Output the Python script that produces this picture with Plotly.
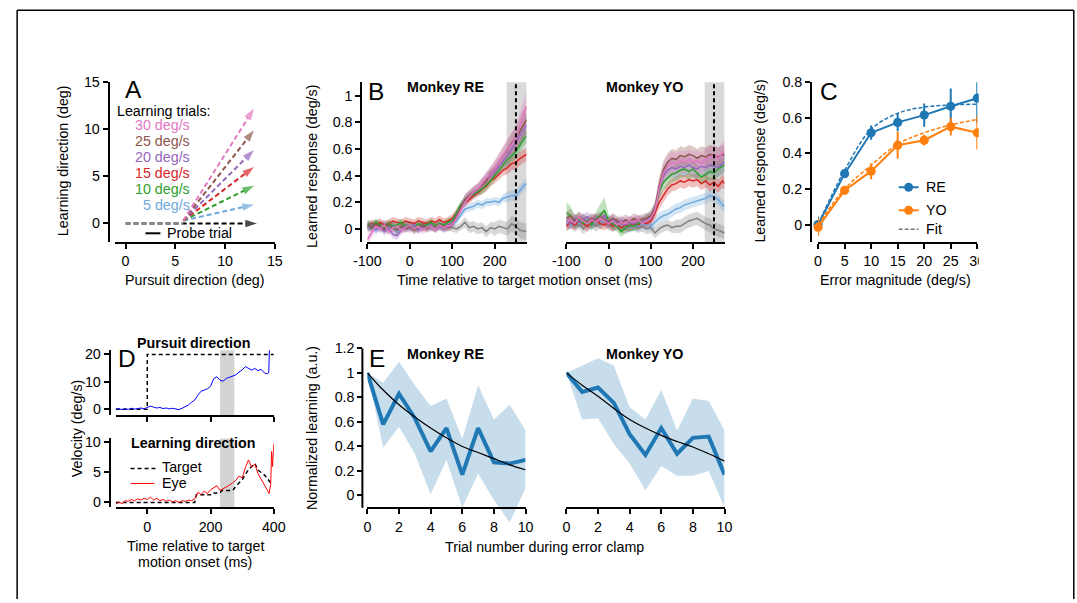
import plotly.graph_objects as go

# The captured picture shows the page at a small zoom-out (~0.981) and the page body
# keeps an 8 px margin; positions below are given in final picture pixels and
# converted to figure paper coordinates.
S = 0.981
OFF = 8
W, H = 1086, 599
FONT = "Liberation Sans, Arial, Helvetica, sans-serif"


def px(x):
    return (x / S - OFF) / W


def py(y):
    return 1 - (y / S - OFF) / H


def fs(v):
    return round(v / S, 2)


# ---------------- DATA ----------------
# Panel A (schematic)
A_SPEEDS = ["5 deg/s", "10 deg/s", "15 deg/s", "20 deg/s", "25 deg/s", "30 deg/s"]
A_COLORS = ["#6fa8dc", "#2ca02c", "#d62728", "#9467bd", "#8c564b", "#e377c2"]
A_START_X = 5.8
A_START_Y = 0.3
A_END_X = 12.9
A_END_Y = [2.0, 4.0, 6.0, 7.8, 9.9, 12.2]
A_PROBE_END = 13.2

# Panel B (learned response time courses)
B_T = list(range(-100, 271, 10)) + [275]
B_NAMES = ["0", "5", "10", "15", "20", "25", "30"]
B_COLORS = ["#7f7f7f", "#6fa8dc", "#d62728", "#2ca02c", "#9467bd", "#8c564b", "#e377c2"]

RE_MEAN = {
    "0": [0.02, 0.00, 0.03, 0.01, 0.02, -0.01, 0.02, 0.00, 0.01, 0.03,
          0.02, 0.00, 0.02, 0.01, 0.03, 0.02, 0.01, 0.02, 0.00, 0.02,
          0.01, 0.00, 0.02, 0.05, 0.01, 0.02, 0.00, 0.01, -0.02, 0.01,
          0.00, 0.02, 0.01, 0.00, 0.04, 0.02, -0.01, -0.02, -0.02],
    "5": [0.00, 0.03, -0.01, 0.02, 0.04, 0.01, 0.03, -0.02, 0.02, 0.01,
          0.03, 0.02, 0.00, 0.02, 0.03, 0.01, 0.02, 0.03, 0.01, 0.02,
          0.03, 0.06, 0.11, 0.15, 0.16, 0.17, 0.19, 0.18, 0.20, 0.20,
          0.21, 0.20, 0.23, 0.24, 0.25, 0.25, 0.29, 0.33, 0.34],
    "10": [0.02, 0.04, 0.03, 0.05, 0.03, 0.04, 0.06, 0.05, 0.04, 0.06,
           0.05, 0.04, 0.06, 0.05, 0.04, 0.06, 0.05, 0.07, 0.05, 0.06,
           0.08, 0.12, 0.17, 0.20, 0.22, 0.25, 0.27, 0.30, 0.32, 0.36,
           0.38, 0.41, 0.44, 0.46, 0.49, 0.50, 0.53, 0.55, 0.56],
    "15": [0.04, 0.02, 0.05, 0.03, 0.01, 0.04, 0.02, 0.03, 0.05, 0.02,
           0.03, 0.01, 0.04, 0.02, 0.03, 0.05, 0.02, 0.04, 0.03, 0.05,
           0.06, 0.12, 0.18, 0.21, 0.24, 0.26, 0.28, 0.30, 0.33, 0.36,
           0.40, 0.44, 0.48, 0.52, 0.55, 0.58, 0.63, 0.68, 0.69],
    "20": [0.01, 0.03, 0.00, 0.02, -0.02, 0.01, -0.04, -0.05, -0.01, 0.02,
           0.00, 0.03, -0.01, 0.02, 0.01, 0.03, 0.00, 0.02, 0.01, 0.03,
           0.04, 0.10, 0.16, 0.22, 0.25, 0.27, 0.30, 0.33, 0.37, 0.40,
           0.43, 0.47, 0.51, 0.55, 0.60, 0.65, 0.70, 0.76, 0.78],
    "25": [0.03, 0.01, 0.04, 0.02, 0.00, 0.03, 0.01, -0.01, 0.02, 0.00,
           0.02, -0.01, 0.01, 0.03, 0.00, 0.02, 0.01, 0.03, 0.02, 0.01,
           0.03, 0.09, 0.15, 0.22, 0.25, 0.28, 0.30, 0.33, 0.36, 0.42,
           0.45, 0.50, 0.55, 0.60, 0.64, 0.68, 0.74, 0.80, 0.82],
    "30": [-0.08, -0.03, 0.02, 0.00, 0.03, -0.02, 0.01, 0.02, -0.01, 0.01,
           0.03, 0.00, 0.02, -0.01, 0.01, 0.02, 0.00, 0.03, 0.01, 0.02,
           0.03, 0.08, 0.14, 0.20, 0.24, 0.28, 0.30, 0.34, 0.38, 0.41,
           0.45, 0.50, 0.55, 0.60, 0.63, 0.68, 0.78, 0.88, 0.92],
}
RE_SEM = {
    "0": [0.03, 0.03, 0.03, 0.03, 0.03, 0.03, 0.03, 0.03, 0.03, 0.03,
          0.03, 0.03, 0.03, 0.03, 0.03, 0.03, 0.03, 0.03, 0.03, 0.03,
          0.03, 0.03, 0.03, 0.04, 0.04, 0.04, 0.04, 0.04, 0.04, 0.04,
          0.05, 0.05, 0.05, 0.05, 0.06, 0.06, 0.06, 0.06, 0.06],
    "5": [0.03, 0.03, 0.03, 0.03, 0.03, 0.03, 0.03, 0.03, 0.03, 0.03,
          0.03, 0.03, 0.03, 0.03, 0.03, 0.03, 0.03, 0.03, 0.03, 0.03,
          0.03, 0.03, 0.03, 0.03, 0.03, 0.03, 0.03, 0.03, 0.03, 0.03,
          0.03, 0.03, 0.03, 0.04, 0.04, 0.04, 0.04, 0.04, 0.04],
    "10": [0.03, 0.03, 0.03, 0.03, 0.03, 0.03, 0.03, 0.03, 0.03, 0.03,
           0.03, 0.03, 0.03, 0.03, 0.03, 0.03, 0.03, 0.03, 0.03, 0.03,
           0.03, 0.03, 0.03, 0.03, 0.03, 0.03, 0.03, 0.04, 0.04, 0.04,
           0.04, 0.04, 0.04, 0.05, 0.05, 0.05, 0.05, 0.05, 0.05],
    "15": [0.03, 0.03, 0.03, 0.03, 0.03, 0.03, 0.03, 0.03, 0.03, 0.03,
           0.03, 0.03, 0.03, 0.03, 0.03, 0.03, 0.03, 0.03, 0.03, 0.03,
           0.03, 0.03, 0.03, 0.03, 0.03, 0.03, 0.03, 0.04, 0.04, 0.04,
           0.04, 0.04, 0.04, 0.05, 0.05, 0.05, 0.05, 0.05, 0.05],
    "20": [0.03, 0.03, 0.03, 0.03, 0.03, 0.03, 0.03, 0.03, 0.03, 0.03,
           0.03, 0.03, 0.03, 0.03, 0.03, 0.03, 0.03, 0.03, 0.03, 0.03,
           0.03, 0.03, 0.03, 0.04, 0.04, 0.04, 0.04, 0.04, 0.05, 0.05,
           0.05, 0.06, 0.06, 0.07, 0.07, 0.08, 0.08, 0.09, 0.09],
    "25": [0.03, 0.03, 0.03, 0.03, 0.03, 0.03, 0.03, 0.03, 0.03, 0.03,
           0.03, 0.03, 0.03, 0.03, 0.03, 0.03, 0.03, 0.03, 0.03, 0.03,
           0.03, 0.03, 0.03, 0.04, 0.04, 0.04, 0.04, 0.05, 0.05, 0.05,
           0.06, 0.06, 0.07, 0.07, 0.08, 0.09, 0.10, 0.11, 0.11],
    "30": [0.04, 0.04, 0.03, 0.03, 0.03, 0.03, 0.03, 0.03, 0.03, 0.03,
           0.03, 0.03, 0.03, 0.03, 0.03, 0.03, 0.03, 0.03, 0.03, 0.03,
           0.03, 0.03, 0.03, 0.04, 0.04, 0.04, 0.04, 0.05, 0.05, 0.05,
           0.06, 0.06, 0.07, 0.08, 0.09, 0.10, 0.11, 0.12, 0.12],
}

YO_MEAN = {
    "0": [0.03, 0.05, 0.02, 0.04, 0.00, 0.03, 0.05, 0.02, 0.04, 0.06,
          0.03, 0.02, 0.04, 0.01, 0.00, 0.02, 0.03, 0.01, 0.02, 0.00,
          0.01, -0.03, 0.00, 0.02, 0.03, 0.01, 0.02, 0.02, 0.04, 0.06,
          0.07, 0.08, 0.06, 0.04, 0.03, 0.00, -0.01, -0.02, -0.03],
    "5": [0.05, 0.03, 0.06, 0.04, 0.08, 0.05, 0.03, 0.06, 0.04, 0.07,
          0.05, 0.03, 0.04, 0.02, 0.03, 0.01, 0.03, 0.02, 0.04, 0.03,
          0.02, 0.05, 0.08, 0.10, 0.11, 0.13, 0.15, 0.16, 0.18, 0.19,
          0.20, 0.21, 0.22, 0.23, 0.25, 0.24, 0.22, 0.18, 0.17],
    "10": [0.02, 0.05, 0.03, 0.06, 0.04, 0.02, 0.05, 0.07, 0.04, 0.03,
           0.05, 0.02, 0.04, 0.01, 0.03, 0.02, 0.04, 0.03, 0.05, 0.04,
           0.06, 0.12, 0.20, 0.25, 0.30, 0.33, 0.34, 0.36, 0.35, 0.37,
           0.36, 0.37, 0.34, 0.36, 0.33, 0.35, 0.32, 0.36, 0.34],
    "15": [0.12, 0.10, 0.05, 0.07, 0.04, 0.06, 0.03, 0.08, 0.10, 0.14,
           0.06, 0.04, 0.02, -0.02, 0.01, 0.03, 0.02, 0.04, 0.05, 0.07,
           0.08, 0.15, 0.28, 0.35, 0.38, 0.41, 0.42, 0.44, 0.45, 0.43,
           0.45, 0.42, 0.39, 0.41, 0.43, 0.42, 0.45, 0.47, 0.48],
    "20": [0.06, 0.04, 0.08, 0.05, 0.07, 0.09, 0.06, 0.08, 0.07, 0.10,
           0.05, 0.07, 0.04, 0.06, 0.03, 0.05, 0.04, 0.06, 0.05, 0.07,
           0.09, 0.15, 0.30, 0.40, 0.44, 0.46, 0.45, 0.47, 0.46, 0.48,
           0.46, 0.45, 0.47, 0.46, 0.48, 0.47, 0.46, 0.49, 0.50],
    "25": [0.08, 0.10, 0.06, 0.09, 0.07, 0.05, 0.08, 0.06, 0.09, 0.07,
           0.05, 0.08, 0.06, 0.04, 0.07, 0.05, 0.08, 0.06, 0.07, 0.08,
           0.10, 0.15, 0.32, 0.44, 0.50, 0.53, 0.52, 0.55, 0.54, 0.56,
           0.55, 0.53, 0.55, 0.54, 0.56, 0.55, 0.54, 0.56, 0.55],
    "30": [0.05, 0.07, 0.04, 0.09, 0.06, 0.04, 0.07, 0.05, 0.08, 0.06,
           0.04, 0.06, 0.03, 0.05, 0.04, 0.06, 0.05, 0.07, 0.04, 0.06,
           0.08, 0.14, 0.30, 0.42, 0.47, 0.50, 0.49, 0.51, 0.50, 0.52,
           0.50, 0.51, 0.49, 0.52, 0.54, 0.55, 0.53, 0.57, 0.58],
}
YO_SEM = {
    "0": [0.04, 0.04, 0.04, 0.04, 0.04, 0.04, 0.04, 0.04, 0.04, 0.04,
          0.04, 0.04, 0.04, 0.04, 0.04, 0.04, 0.04, 0.04, 0.04, 0.04,
          0.04, 0.04, 0.04, 0.04, 0.04, 0.04, 0.05, 0.05, 0.05, 0.05,
          0.05, 0.05, 0.05, 0.05, 0.05, 0.05, 0.05, 0.05, 0.05],
    "5": [0.04, 0.04, 0.04, 0.04, 0.04, 0.04, 0.04, 0.04, 0.04, 0.04,
          0.04, 0.04, 0.04, 0.04, 0.04, 0.04, 0.04, 0.04, 0.04, 0.04,
          0.04, 0.04, 0.04, 0.04, 0.04, 0.04, 0.04, 0.04, 0.04, 0.04,
          0.04, 0.04, 0.04, 0.04, 0.04, 0.04, 0.04, 0.04, 0.04],
    "10": [0.04, 0.04, 0.04, 0.04, 0.04, 0.04, 0.04, 0.04, 0.04, 0.04,
           0.04, 0.04, 0.04, 0.04, 0.04, 0.04, 0.04, 0.04, 0.04, 0.04,
           0.04, 0.05, 0.05, 0.05, 0.05, 0.05, 0.05, 0.05, 0.05, 0.05,
           0.05, 0.05, 0.05, 0.05, 0.05, 0.05, 0.05, 0.05, 0.05],
    "15": [0.08, 0.07, 0.05, 0.05, 0.04, 0.04, 0.04, 0.05, 0.08, 0.10,
           0.05, 0.04, 0.04, 0.04, 0.04, 0.04, 0.04, 0.04, 0.04, 0.04,
           0.04, 0.05, 0.06, 0.06, 0.06, 0.06, 0.06, 0.06, 0.06, 0.06,
           0.06, 0.06, 0.06, 0.06, 0.06, 0.06, 0.06, 0.06, 0.06],
    "20": [0.04, 0.04, 0.04, 0.04, 0.04, 0.04, 0.04, 0.04, 0.04, 0.04,
           0.04, 0.04, 0.04, 0.04, 0.04, 0.04, 0.04, 0.04, 0.04, 0.04,
           0.04, 0.05, 0.07, 0.07, 0.07, 0.07, 0.07, 0.07, 0.07, 0.07,
           0.07, 0.07, 0.07, 0.07, 0.07, 0.07, 0.07, 0.07, 0.07],
    "25": [0.05, 0.05, 0.04, 0.04, 0.04, 0.04, 0.04, 0.04, 0.04, 0.04,
           0.04, 0.04, 0.04, 0.04, 0.04, 0.04, 0.04, 0.04, 0.04, 0.04,
           0.04, 0.05, 0.07, 0.07, 0.07, 0.07, 0.07, 0.07, 0.07, 0.07,
           0.07, 0.07, 0.07, 0.07, 0.07, 0.07, 0.07, 0.07, 0.07],
    "30": [0.04, 0.04, 0.04, 0.04, 0.04, 0.04, 0.04, 0.04, 0.04, 0.04,
           0.04, 0.04, 0.04, 0.04, 0.04, 0.04, 0.04, 0.04, 0.04, 0.04,
           0.04, 0.05, 0.07, 0.07, 0.08, 0.08, 0.08, 0.08, 0.08, 0.08,
           0.08, 0.08, 0.08, 0.08, 0.08, 0.08, 0.08, 0.08, 0.08],
}

# Panel C
C_ERR = [0, 5, 10, 15, 20, 25, 30]
C_RE = [0.0, 0.286, 0.516, 0.574, 0.615, 0.665, 0.71]
C_RE_SE = [0.045, 0.015, 0.04, 0.05, 0.065, 0.10, 0.14]
C_YO = [-0.015, 0.192, 0.30, 0.446, 0.474, 0.55, 0.516]
C_YO_SE = [0.05, 0.015, 0.045, 0.075, 0.03, 0.05, 0.095]
C_RE_FIT = [0.0, 0.305, 0.535, 0.625, 0.66, 0.672, 0.676]
C_YO_FIT = [0.0, 0.20, 0.333, 0.452, 0.516, 0.56, 0.59]

# Panel D
D_TOP_T = list(range(-100, 381, 10)) + [384, 386]
D_TOP_EYE = [0.0, 0.3, -0.1, 0.2, 0.0, 0.4, 0.1, 0.3, 0.5, 0.2,
             0.6, 1.2, 0.8, 0.5, 0.7, 0.3, 0.5, 0.2, 0.4, 0.1,
             -0.1, 0.4, 0.9, 1.6, 2.6, 3.4, 5.2, 6.6, 7.0, 7.5,
             8.4, 11.2, 11.9, 10.6, 10.3, 11.3, 11.7, 12.3, 12.6, 13.6,
             14.4, 15.6, 14.9, 14.3, 14.9, 14.1, 14.6, 13.3, 12.9, 13.6, 22.0]
D_TOP_TARGET_T = [-100, 0, 0, 400]
D_TOP_TARGET = [0, 0, 20, 20]
D_BOT_T = list(range(-100, 381, 10)) + [385, 390, 393, 396, 400]
D_BOT_EYE = [-0.3, 0.1, -0.2, 0.3, 0.2, 0.5, 0.3, 0.6, 0.4, 0.7,
             0.5, 0.9, 0.4, 0.7, 0.3, 0.5, 0.2, 0.4, 0.1, 0.3,
             0.0, 0.3, 0.2, 0.4, 0.3, 0.6, 1.7, 1.3, 1.9, 1.5,
             2.1, 2.4, 2.8, 2.0, 2.3, 2.5, 2.9, 3.3, 3.7, 4.4,
             4.1, 5.8, 7.1, 5.9, 6.4, 4.8, 3.9, 3.1, 2.0, 1.5,
             3.0, 8.5, 6.0, 9.8]
D_BOT_TARGET_T = [-100, 150, 155, 200, 205, 230, 235, 270, 280, 300, 320, 340, 350, 370, 390, 395]
D_BOT_TARGET = [0, 0, 1.3, 1.3, 1.6, 1.6, 2.0, 2.0, 2.7, 3.8, 5.5, 6.5, 5.4, 4.6, 3.3, 3.4]

# Panel E
E_TRIALS = list(range(11))
E_RE_MEAN = [1.0, 0.58, 0.83, 0.63, 0.36, 0.55, 0.17, 0.55, 0.27, 0.26, 0.29]
E_RE_UP = [1.0, 0.92, 1.09, 0.90, 0.73, 0.79, 0.46, 0.90, 0.62, 0.74, 0.53]
E_RE_LO = [1.0, 0.39, 0.56, 0.34, 0.01, 0.29, -0.10, 0.18, -0.04, -0.22, 0.06]
E_RE_FIT = [1.0, 0.86, 0.74, 0.64, 0.55, 0.47, 0.40, 0.35, 0.30, 0.25, 0.21]
E_YO_MEAN = [1.0, 0.845, 0.88, 0.755, 0.50, 0.33, 0.55, 0.34, 0.47, 0.48, 0.17]
E_YO_UP = [1.0, 1.06, 1.12, 1.06, 0.72, 0.62, 0.86, 0.53, 0.79, 0.77, 0.53]
E_YO_LO = [1.0, 0.62, 0.63, 0.42, 0.26, 0.04, 0.24, 0.16, 0.16, 0.20, -0.10]
E_YO_FIT = [1.0, 0.90, 0.81, 0.71, 0.62, 0.55, 0.49, 0.44, 0.395, 0.34, 0.28]

# ---------------- FIGURE ----------------
fig = go.Figure()


def rgba(hexc, a):
    h = hexc.lstrip("#")
    r, g, b = int(h[0:2], 16), int(h[2:4], 16), int(h[4:6], 16)
    return f"rgba({r},{g},{b},{a})"


def add(tr):
    tr.update(showlegend=False, hoverinfo="skip")
    fig.add_trace(tr)


def band(xs, lo, hi, color, xa, ya):
    add(go.Scatter(x=list(xs) + list(xs)[::-1], y=list(hi) + list(lo)[::-1],
                   fill="toself", fillcolor=color, line=dict(width=0),
                   mode="lines", xaxis=xa, yaxis=ya))


ARROW = fs(12)

# --- Panel A ---
add(go.Scatter(x=[0, A_PROBE_END], y=[0, 0], mode="lines+markers",
               line=dict(color="black", width=2, dash="5px,3px"),
               marker=dict(symbol="arrow", size=[0, ARROW], angleref="previous", color="black",
                           line=dict(width=0)),
               xaxis="x", yaxis="y", cliponaxis=False))
add(go.Scatter(x=[0, A_START_X], y=[0, 0], mode="lines",
               line=dict(color="#8a8a8a", width=2, dash="5px,3px"),
               xaxis="x", yaxis="y"))
for ye, col in zip(A_END_Y, A_COLORS):
    add(go.Scatter(x=[A_START_X, A_END_X], y=[A_START_Y, ye], mode="lines+markers",
                   line=dict(color=col, width=2, dash="5px,3px"),
                   marker=dict(symbol="arrow", size=[0, ARROW], angleref="previous", color=col,
                               line=dict(width=0)),
                   xaxis="x", yaxis="y", cliponaxis=False))

# --- Panel B ---
for mean_d, sem_d, xa, ya in [(RE_MEAN, RE_SEM, "x2", "y2"), (YO_MEAN, YO_SEM, "x3", "y3")]:
    for name, col in zip(B_NAMES, B_COLORS):
        m = mean_d[name]
        s = sem_d[name]
        band(B_T, [a - b for a, b in zip(m, s)], [a + b for a, b in zip(m, s)],
             rgba(col, 0.3), xa, ya)
    for name, col in zip(B_NAMES, B_COLORS):
        add(go.Scatter(x=B_T, y=mean_d[name], mode="lines",
                       line=dict(color=col, width=1.5), xaxis=xa, yaxis=ya))

# --- Panel C ---
for yv, se, fit, col in [(C_RE, C_RE_SE, C_RE_FIT, "#1f77b4"), (C_YO, C_YO_SE, C_YO_FIT, "#ff7f0e")]:
    add(go.Scatter(x=C_ERR, y=fit, mode="lines", line=dict(color=col, width=1.5, dash="4px,2px", shape="spline"),
                   xaxis="x4", yaxis="y4"))
    add(go.Scatter(x=C_ERR, y=yv, mode="lines+markers", line=dict(color=col, width=2),
                   marker=dict(size=fs(9), color=col),
                   error_y=dict(type="data", array=se, visible=True, color=col, thickness=2, width=0),
                   xaxis="x4", yaxis="y4", cliponaxis=False))

# --- Panel D ---
add(go.Scatter(x=D_TOP_TARGET_T, y=D_TOP_TARGET, mode="lines",
               line=dict(color="black", width=1.5, dash="4px,3px"), xaxis="x5", yaxis="y5"))
add(go.Scatter(x=D_TOP_T, y=D_TOP_EYE, mode="lines", line=dict(color="#0000ff", width=1),
               xaxis="x5", yaxis="y5", cliponaxis=False))
add(go.Scatter(x=D_BOT_TARGET_T, y=D_BOT_TARGET, mode="lines",
               line=dict(color="black", width=1.5, dash="4px,3px"), xaxis="x6", yaxis="y6"))
add(go.Scatter(x=D_BOT_T, y=D_BOT_EYE, mode="lines", line=dict(color="#ff0000", width=1),
               xaxis="x6", yaxis="y6", cliponaxis=False))

# --- Panel E ---
for mean, up, lo, fit, xa, ya in [(E_RE_MEAN, E_RE_UP, E_RE_LO, E_RE_FIT, "x7", "y7"),
                                  (E_YO_MEAN, E_YO_UP, E_YO_LO, E_YO_FIT, "x8", "y8")]:
    band(E_TRIALS, lo, up, "rgba(31,119,180,0.25)", xa, ya)
    add(go.Scatter(x=E_TRIALS, y=mean, mode="lines", line=dict(color="#1f77b4", width=4),
                   xaxis=xa, yaxis=ya))
    add(go.Scatter(x=E_TRIALS, y=fit, mode="lines", line=dict(color="black", width=1.2, shape="spline"),
                   xaxis=xa, yaxis=ya))

# ---------------- AXES ----------------
TICKFONT = dict(size=fs(14), family=FONT, color="black")


def xcfg(dom, rng, tickvals, ticktext=None, anchor=None, pos=None, labels=True):
    d = dict(domain=[px(dom[0]), px(dom[1])], range=rng, tickvals=tickvals,
             showline=True, linecolor="black", linewidth=2, ticks="outside", ticklen=5,
             tickwidth=1.5, tickcolor="black", showgrid=False, zeroline=False,
             tickfont=TICKFONT, showticklabels=labels, fixedrange=True)
    if ticktext is not None:
        d["ticktext"] = ticktext
    if pos is not None:
        d.update(anchor="free", position=py(pos))
    else:
        d.update(anchor=anchor)
    return d


def ycfg(dom, rng, tickvals, xline=None, visible=True, showline=True, ticktext=None):
    d = dict(domain=[py(dom[1]), py(dom[0])], range=rng, fixedrange=True,
             showgrid=False, zeroline=False)
    if not visible:
        d.update(visible=False)
        return d
    d.update(tickvals=tickvals, showline=showline, linecolor="black", linewidth=2,
             ticks="outside", ticklen=5, tickwidth=1.5, tickcolor="black",
             tickfont=TICKFONT, anchor="free", position=px(xline))
    if ticktext is not None:
        d["ticktext"] = ticktext
    return d


layout_axes = dict(
    xaxis=xcfg((109, 270), [-1.1, 15], [0, 5, 10, 15], anchor="y"),
    yaxis=ycfg((82, 242), [-2, 15], [0, 5, 10, 15], xline=103),
    xaxis2=xcfg((363, 523), [-100, 275], [-100, 0, 100, 200], ["-100", "0", "100", "200"], anchor="y2"),
    yaxis2=ycfg((82, 242), [-0.1, 1.1], [0, 0.2, 0.4, 0.6, 0.8, 1], xline=357),
    xaxis3=xcfg((563, 722), [-100, 275], [-100, 0, 100, 200], ["-100", "0", "100", "200"], anchor="y3"),
    yaxis3=ycfg((82, 242), [-0.1, 1.1], None, visible=False),
    xaxis4=xcfg((816, 976), [0, 30], [0, 5, 10, 15, 20, 25, 30], anchor="y4"),
    yaxis4=ycfg((82, 242), [-0.1, 0.8], [0, 0.2, 0.4, 0.6, 0.8], xline=809),
    xaxis5=xcfg((110, 269), [-100, 400], [0, 200, 400], anchor="y5", labels=False),
    yaxis5=ycfg((350, 415), [-2.2, 21.5], [0, 10, 20], xline=104),
    xaxis6=xcfg((110, 269), [-100, 400], [0, 200, 400], anchor="y6"),
    yaxis6=ycfg((438, 507), [-0.83, 10.67], [0, 5, 10], xline=104),
    xaxis7=xcfg((363, 522), [0, 10], [0, 2, 4, 6, 8, 10], pos=508),
    yaxis7=ycfg((348, 525), [-0.245, 1.2], [0, 0.2, 0.4, 0.6, 0.8, 1, 1.2], xline=358, showline=False),
    xaxis8=xcfg((563, 722), [0, 10], [0, 2, 4, 6, 8, 10], pos=508),
    yaxis8=ycfg((348, 525), [-0.245, 1.2], None, visible=False),
)

# ---------------- SHAPES ----------------
shapes = []
# frame
for x0, y0, x1, y1 in [(11, 10, 1073, 10), (11, 10, 11, 610), (1073, 10, 1073, 610)]:
    shapes.append(dict(type="line", xref="paper", yref="paper", x0=px(x0), y0=py(y0), x1=px(x1), y1=py(y1),
                       line=dict(color="black", width=1.5)))
# B shaded analysis window + dashed marker
for xa, ya in [("x2", "y2"), ("x3", "y3")]:
    shapes.append(dict(type="rect", xref=xa, yref=ya + " domain", x0=228, x1=275, y0=0, y1=1,
                       fillcolor="#d9d9d9", line=dict(width=0), layer="below"))
    shapes.append(dict(type="line", xref=xa, yref=ya + " domain", x0=250, x1=250, y0=0, y1=1,
                       line=dict(color="black", width=2, dash="4px,3px"), layer="above"))
# D shaded windows
for xa, ya in [("x5", "y5"), ("x6", "y6")]:
    shapes.append(dict(type="rect", xref=xa, yref=ya + " domain", x0=230, x1=275, y0=0, y1=1,
                       fillcolor="#d3d3d3", line=dict(width=0), layer="below"))
# E y-axis spine (ends at -0.1)
shapes.append(dict(type="line", xref="paper", yref="y7", x0=px(358), x1=px(358), y0=-0.1, y1=1.2,
                   line=dict(color="black", width=2)))
# A probe legend line
shapes.append(dict(type="line", xref="paper", yref="paper", x0=px(140), x1=px(155), y0=py(233), y1=py(233),
                   line=dict(color="black", width=2)))
# C legend
for yy, col in [(187, "#1f77b4"), (210, "#ff7f0e")]:
    shapes.append(dict(type="line", xref="paper", yref="paper", x0=px(897), x1=px(917), y0=py(yy), y1=py(yy),
                       line=dict(color=col, width=2)))
    shapes.append(dict(type="circle", xref="paper", yref="paper", x0=px(902.5), x1=px(911.5),
                       y0=py(yy + 4.5), y1=py(yy - 4.5), fillcolor=col, line=dict(color=col, width=0)))
shapes.append(dict(type="line", xref="paper", yref="paper", x0=px(897), x1=px(917), y0=py(229), y1=py(229),
                   line=dict(color="#777777", width=1.5, dash="4px,2px")))
# D legend
shapes.append(dict(type="line", xref="paper", yref="paper", x0=px(125), x1=px(150), y0=py(468), y1=py(468),
                   line=dict(color="black", width=1.5, dash="4px,3px")))
shapes.append(dict(type="line", xref="paper", yref="paper", x0=px(125), x1=px(149), y0=py(483), y1=py(483),
                   line=dict(color="#ff0000", width=1)))
# clip at right of panel C
shapes.append(dict(type="rect", xref="paper", yref="paper", x0=px(977.5), x1=px(1010), y0=py(300), y1=py(65),
                   fillcolor="white", line=dict(width=0), layer="above"))

# ---------------- TEXT ----------------
anns = []


def ann(text, x, y, size=14, bold=False, xanchor="center", yanchor="middle", color="black", angle=0):
    if bold:
        text = f"<b>{text}</b>"
    anns.append(dict(text=text, x=px(x), y=py(y), xref="paper", yref="paper", showarrow=False,
                     xanchor=xanchor, yanchor=yanchor, textangle=angle,
                     font=dict(size=fs(size), family=FONT, color=color)))


# panel letters
ann("A", 128, 89, size=24)
ann("B", 372, 91, size=24)
ann("C", 827, 91, size=24)
ann("D", 121, 358, size=24)
ann("E", 373, 358, size=24)

# A texts
ann("Learning trials:", 109, 111, xanchor="left")
for lab, col, yy in zip(A_SPEEDS, A_COLORS, [205, 189, 173, 157, 141, 125]):
    ann(lab, 187, yy, xanchor="right", color=col)
ann("Probe trial", 160, 233, xanchor="left")
ann("Pursuit direction (deg)", 190, 280)
ann("Learning direction (deg)", 57, 160, angle=-90)

# B texts
ann("Monkey RE", 442, 87, bold=True)
ann("Monkey YO", 642, 87, bold=True)
ann("Time relative to target motion onset (ms)", 521, 280)
ann("Learned response (deg/s)", 308, 166, angle=-90)

# C texts
ann("Error magnitude (deg/s)", 894, 280)
ann("Learned response (deg/s)", 758, 161, angle=-90)
ann("RE", 922, 187, xanchor="left")
ann("YO", 922, 210, xanchor="left")
ann("Fit", 922, 229, xanchor="left")

# D texts
ann("Pursuit direction", 188, 343, bold=True)
ann("Learning direction", 188, 443, bold=True)
ann("Target", 155, 467, xanchor="left")
ann("Eye", 155, 483, xanchor="left")
ann("Time relative to target", 190, 545)
ann("motion onset (ms)", 190, 561)
ann("Velocity (deg/s)", 72, 428, angle=-90)

# E texts
ann("Monkey RE", 442, 354, bold=True)
ann("Monkey YO", 642, 354, bold=True)
ann("Trial number during error clamp", 541, 546)
ann("Normalized learning (a.u.)", 308, 428, angle=-90)

fig.update_layout(
    width=W, height=H, autosize=False,
    margin=dict(l=0, r=0, t=0, b=0),
    paper_bgcolor="rgba(0,0,0,0)", plot_bgcolor="rgba(0,0,0,0)",
    showlegend=False,
    font=dict(family=FONT, size=fs(14), color="black"),
    shapes=shapes, annotations=anns,
    **layout_axes,
)

fig.write_html("out.html", config={"displayModeBar": False})
